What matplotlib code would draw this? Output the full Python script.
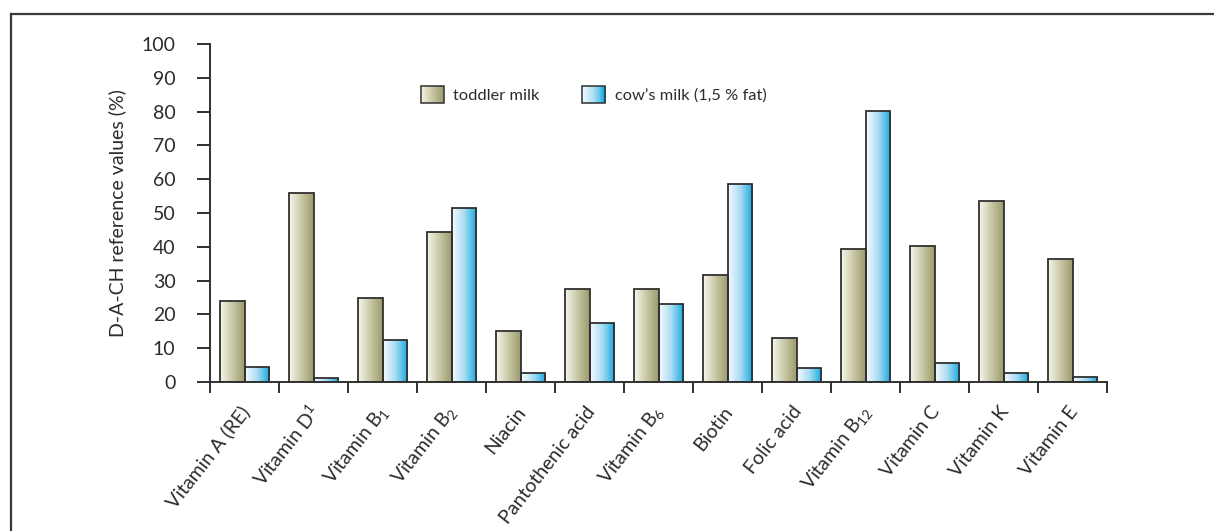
import numpy as np
import matplotlib
matplotlib.use("Agg")
import matplotlib.pyplot as plt
from matplotlib.patches import Rectangle
from matplotlib.lines import Line2D
from matplotlib.legend_handler import HandlerBase
from matplotlib.colors import LinearSegmentedColormap
import matplotlib.transforms as mtransforms

plt.rcParams['font.family'] = ['Lato', 'DejaVu Sans']
plt.rcParams['mathtext.fontset'] = 'custom'
plt.rcParams['mathtext.rm'] = 'Lato'
plt.rcParams['mathtext.it'] = 'Lato:italic'
plt.rcParams['mathtext.bf'] = 'Lato:bold'

# --- data -------------------------------------------------------------
vitamins = [
    "Vitamin A (RE)", r"Vitamin D$\mathregular{^1}$", r"Vitamin B$\mathregular{_1}$",
    r"Vitamin B$\mathregular{_2}$", "Niacin", "Pantothenic acid",
    r"Vitamin B$\mathregular{_6}$", "Biotin", "Folic acid",
    r"Vitamin B$\mathregular{_{12}}$", "Vitamin C", "Vitamin K", "Vitamin E",
]
toddler_milk = [24.0, 56.0, 25.0, 44.3, 15.0, 27.5, 27.5, 31.7, 13.1, 39.3, 40.1, 53.5, 36.5]
cows_milk = [4.5, 1.1, 12.3, 51.6, 2.6, 17.6, 23.1, 58.5, 4.0, 80.3, 5.5, 2.6, 1.4]
series_labels = ["toddler milk", "cow\u2019s milk (1,5 % fat)"]
y_ticks = list(range(0, 101, 10))

# --- styling ----------------------------------------------------------
INK = "#2b2b2b"
EDGE = "#303030"
olive_cmap = LinearSegmentedColormap.from_list("olive", ["#f7f6ec", "#c9c8a6", "#9b996b"])
cyan_cmap = LinearSegmentedColormap.from_list("cyan", ["#f6fbfe", "#a9dcf3", "#12a8e0"])
gradient = np.linspace(0, 1, 256).reshape(1, -1)

fig = plt.figure(figsize=(12.14, 5.31), dpi=100)
ax = fig.add_axes([210 / 1214, 1 - 382 / 531, 897 / 1214, 338 / 531])

x = np.arange(len(vitamins))
w = 0.355


def gradient_bars(xpos, values, cmap):
    bars = ax.bar(xpos, values, width=w, facecolor="none", edgecolor=EDGE,
                  linewidth=1.3, zorder=3)
    for b in bars:
        x0, y0 = b.get_x(), b.get_y()
        im = ax.imshow(gradient, cmap=cmap, aspect="auto", interpolation="bicubic",
                       extent=(x0, x0 + b.get_width(), y0, y0 + b.get_height()),
                       zorder=2)
        im.set_clip_path(b)
    return bars


gradient_bars(x - w / 2, toddler_milk, olive_cmap)
gradient_bars(x + w / 2, cows_milk, cyan_cmap)

ax.set_xlim(-0.5, len(vitamins) - 0.5)
ax.set_ylim(0, 100)

for s in ["top", "right"]:
    ax.spines[s].set_visible(False)
for s in ["left", "bottom"]:
    ax.spines[s].set_color(EDGE)
    ax.spines[s].set_linewidth(1.4)

ax.set_yticks(y_ticks)
ax.tick_params(axis="y", direction="out", length=9.4, width=1.4, color=EDGE,
               pad=15.5, labelsize=14, labelcolor=INK)

# boundary ticks between categories, labels at category centres
ax.set_xticks(np.arange(len(vitamins) + 1) - 0.5, minor=True)
ax.tick_params(axis="x", which="minor", direction="out", length=8, width=1.4, color=EDGE)
ax.set_xticks(x)
ax.set_xticklabels(vitamins, rotation=52, ha="right", va="center",
                   rotation_mode="anchor", fontsize=14, color=INK)
ax.tick_params(axis="x", which="major", length=0, pad=19)
offset = mtransforms.ScaledTranslation(2 / 100, 0, fig.dpi_scale_trans)
for lab in ax.get_xticklabels():
    lab.set_transform(lab.get_transform() + offset)

ax.set_ylabel("D-A-CH reference values (%)", fontsize=14, color=INK)
ax.yaxis.set_label_coords(-0.094, 0.5)


class GradientHandler(HandlerBase):
    def __init__(self, cmap):
        super().__init__()
        self.cmap = cmap

    def create_artists(self, legend, orig_handle, xdescent, ydescent, width, height,
                       fontsize, trans):
        n = 24
        arts = []
        for i in range(n):
            r = Rectangle((-xdescent + width * i / n, -ydescent), width / n + 0.3, height,
                          facecolor=self.cmap((i + 0.5) / n), edgecolor="none",
                          transform=trans)
            arts.append(r)
        arts.append(Rectangle((-xdescent, -ydescent), width, height, facecolor="none",
                              edgecolor=EDGE, linewidth=1.1, transform=trans))
        return arts


h1 = Rectangle((0, 0), 1, 1)
h2 = Rectangle((0, 0), 1, 1)
leg = ax.legend([h1, h2], series_labels, ncol=2, frameon=False, fontsize=11.8,
                loc="center left", bbox_to_anchor=(0.222, 0.85),
                handler_map={h1: GradientHandler(olive_cmap), h2: GradientHandler(cyan_cmap)},
                handlelength=1.4, handleheight=1.25, handletextpad=0.6,
                columnspacing=2.6, borderpad=0.2)
for t in leg.get_texts():
    t.set_color(INK)

# outer frame (top and left edges)
fx, fy = 10.5 / 1214, 1 - 14 / 531
fig.add_artist(Line2D([fx, 1.0], [fy, fy], transform=fig.transFigure,
                      color="#3a3a3a", linewidth=1.6))
fig.add_artist(Line2D([fx, fx], [0.0, fy], transform=fig.transFigure,
                      color="#3a3a3a", linewidth=1.6))

fig.savefig("out.png", dpi=100)
